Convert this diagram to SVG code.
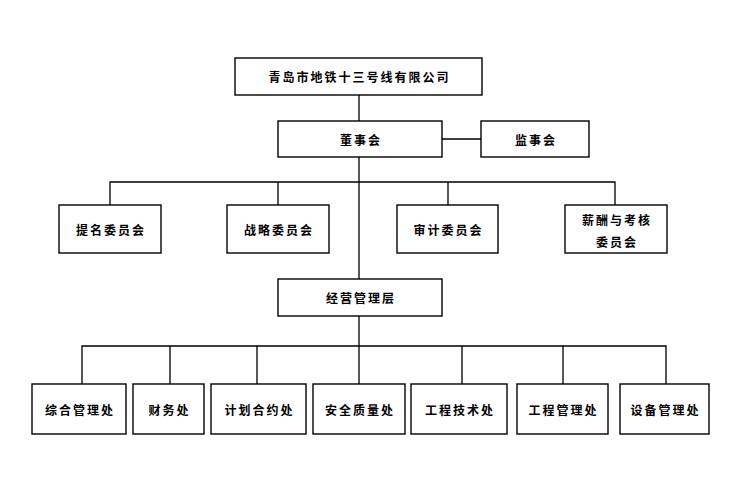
<svg xmlns="http://www.w3.org/2000/svg" width="750" height="488" viewBox="0 0 750 488">
<style>
.b{fill:#fff;stroke:#000;stroke-width:1.4}
.t{font-family:"Noto Sans CJK SC","Noto Sans",sans-serif;font-size:12px;font-weight:bold;letter-spacing:2px;text-anchor:middle;dominant-baseline:central;fill:#000}
.c{fill:none;stroke:#000;stroke-width:1.3}
</style>
<rect width="750" height="488" fill="#fff"/>
<g id="connectors">
<path class="c" d="M359 95V121M359 157V279M442 139H481M110 205V182H615V205M278 182V205M448 182V205M359 316V384M82 384V346H666V384M170 346V384M257 346V384M462 346V384M563 346V384"/>
</g>
<g id="company"><rect class="b" x="235" y="58" width="247" height="37"/><text class="t" x="359.5" y="76.5">青岛市地铁十三号线有限公司</text></g>
<g id="board"><rect class="b" x="278" y="121" width="164" height="36"/><text class="t" x="361" y="139">董事会</text></g>
<g id="supervisors"><rect class="b" x="481" y="121" width="108" height="36"/><text class="t" x="536" y="139">监事会</text></g>
<g id="nomination"><rect class="b" x="59" y="205" width="102" height="48"/><text class="t" x="111" y="229">提名委员会</text></g>
<g id="strategy"><rect class="b" x="227" y="205" width="102" height="48"/><text class="t" x="279" y="229">战略委员会</text></g>
<g id="audit"><rect class="b" x="397" y="205" width="101" height="48"/><text class="t" x="448.5" y="229">审计委员会</text></g>
<g id="remuneration"><rect class="b" x="565" y="205" width="102" height="48"/><text class="t" x="617" y="219">薪酬与考核</text><text class="t" x="617" y="241">委员会</text></g>
<g id="management"><rect class="b" x="278" y="279" width="164" height="37"/><text class="t" x="361" y="297.5">经营管理层</text></g>
<g id="general"><rect class="b" x="32" y="384" width="94" height="50"/><text class="t" x="80" y="409">综合管理处</text></g>
<g id="finance"><rect class="b" x="133" y="384" width="71" height="50"/><text class="t" x="169.5" y="409">财务处</text></g>
<g id="planning"><rect class="b" x="211" y="384" width="95" height="50"/><text class="t" x="259.5" y="409">计划合约处</text></g>
<g id="safety"><rect class="b" x="313" y="384" width="92" height="50"/><text class="t" x="360" y="409">安全质量处</text></g>
<g id="engtech"><rect class="b" x="411" y="384" width="96" height="50"/><text class="t" x="460" y="409">工程技术处</text></g>
<g id="engmgmt"><rect class="b" x="517" y="384" width="91" height="50"/><text class="t" x="563.5" y="409">工程管理处</text></g>
<g id="equipment"><rect class="b" x="620" y="384" width="89" height="50"/><text class="t" x="665.5" y="409">设备管理处</text></g>
</svg>
